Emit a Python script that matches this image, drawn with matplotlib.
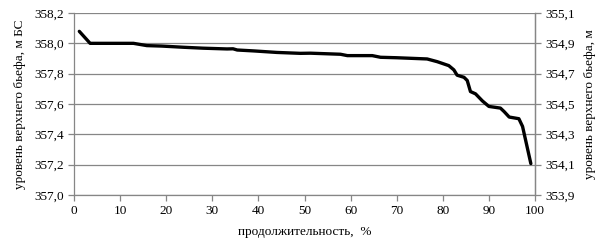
import matplotlib
matplotlib.use("Agg")
import matplotlib.pyplot as plt
from matplotlib.ticker import FuncFormatter, MultipleLocator

duration = [1.15, 3.5, 8, 12.9, 15.8, 19, 23.8, 28, 33.2, 34.5, 35.4, 39, 44, 49.1, 51.3, 57.8, 59.3,
            64.7, 66.5, 70, 76.6, 78.8, 81.3, 82.4, 83.1, 84.6, 85.3, 86.0, 87.1, 88.6, 90.0,
            92.5, 93.3, 94.4, 96.5, 97.3, 99.1]
level = [358.079, 358.0, 358.0, 358.0, 357.985, 357.982, 357.974, 357.968, 357.963, 357.964, 357.956,
         357.95, 357.94, 357.934, 357.935, 357.928, 357.919, 357.919, 357.908, 357.905, 357.897,
         357.879, 357.853, 357.825, 357.79, 357.776, 357.755, 357.682, 357.667, 357.62, 357.584,
         357.573, 357.55, 357.514, 357.503, 357.452, 357.207]

left_lim = (357.0, 358.2)
right_lim = (353.9, 355.1)
right_ticks = [353.9, 354.1, 354.3, 354.5, 354.7, 354.9, 355.1]
x_lim = (0, 100)

plt.rcParams['font.family'] = ['Liberation Serif', 'DejaVu Serif']
fig = plt.figure(figsize=(6.09, 2.49), dpi=100)
ax = fig.add_axes([74/609, 1-195/249, (535-74)/609, (195-13)/249])

grid_c = '#868686'
ax.plot(duration, level, color='black', lw=2.4, solid_joinstyle='round', solid_capstyle='round', zorder=3)
ax.set_xlim(*x_lim)
ax.set_ylim(*left_lim)
ax.xaxis.set_major_locator(MultipleLocator(10))
ax.yaxis.set_major_locator(MultipleLocator(0.2))
comma = FuncFormatter(lambda v, p: f"{v:.1f}".replace('.', ','))
ax.yaxis.set_major_formatter(comma)
ax.grid(axis='y', color=grid_c, lw=0.9)
ax.spines['top'].set_visible(False)
for s in ['left', 'bottom', 'right']:
    ax.spines[s].set_color(grid_c)
    ax.spines[s].set_linewidth(0.9)
ax.tick_params(axis='both', colors=grid_c, labelcolor='black', labelsize=9.5, length=4, width=0.9)
ax.set_xlabel('продолжительность,  %', fontsize=9.5, labelpad=6)
ax.set_ylabel('уровень верхнего бьефа, м БС', fontsize=9.5, labelpad=6)

ax2 = ax.twinx()
ax2.set_ylim(*right_lim)
ax2.set_yticks(right_ticks)
ax2.yaxis.set_major_formatter(comma)
for s in ['top', 'left', 'bottom']:
    ax2.spines[s].set_visible(False)
ax2.spines['right'].set_color(grid_c)
ax2.spines['right'].set_linewidth(0.9)
ax2.tick_params(axis='y', colors=grid_c, labelcolor='black', labelsize=9.5, length=4, width=0.9)
ax2.set_ylabel('уровень верхнего бьефа, м', fontsize=9.5, labelpad=6, rotation=90)

fig.savefig('out.png', dpi=100)
